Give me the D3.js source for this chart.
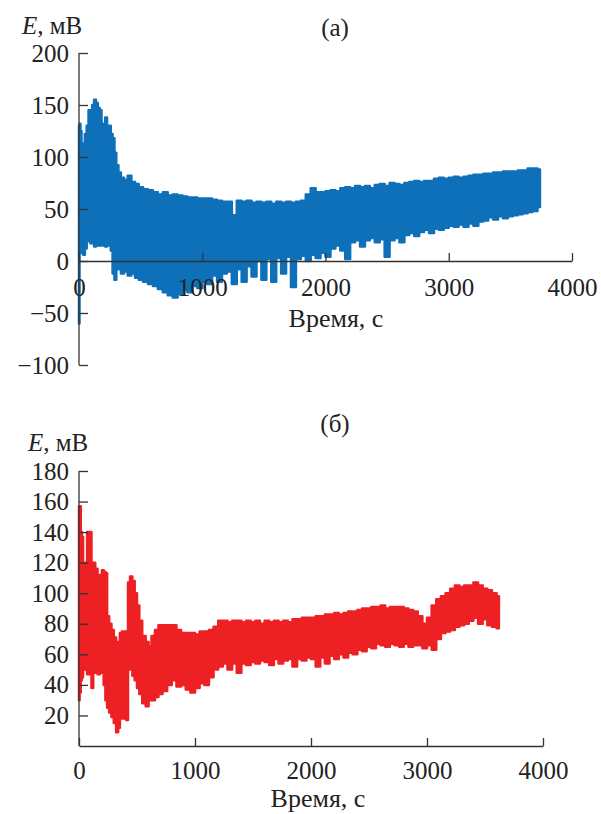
<!DOCTYPE html>
<html>
<head>
<meta charset="utf-8">
<script src="https://cdn.jsdelivr.net/npm/d3@7"></script>
<style>
  body { margin: 0; background: #fff; }
</style>
</head>
<body>
<script>
// panel (a): envelope of the signal, time in s, E in mV
var timeA = [0,8,15,25,40,55,70,85,100,115,130,145,160,175,190,205,220,235,250,265,280,295,310,330,350,380,410,440,470,500,540,580,620,660,700,740,780,820,860,900,940,980,1020,1060,1100,1140,1180,1220,1260,1300,1340,1380,1420,1460,1500,1540,1580,1620,1660,1700,1740,1780,1820,1860,1900,1940,1980,2020,2060,2100,2140,2180,2220,2260,2300,2340,2380,2420,2460,2500,2540,2580,2620,2660,2700,2740,2780,2820,2860,2900,2940,2980,3020,3060,3100,3140,3180,3220,3260,3300,3340,3380,3420,3460,3500,3540,3580,3620,3660,3700,3740];
var highA = [130,132,125,112,113,122,130,145,142,150,155,152,147,145,132,130,138,128,130,122,118,104,92,85,80,78,82,76,74,71,69,68,66,64,66,63,64,63,62,61,61,60,60,60,59,58,57,57,44,58,57,58,56,57,56,57,55,57,56,57,56,57,58,64,70,66,66,67,68,67,70,71,70,72,71,72,70,73,74,72,75,74,73,75,76,77,76,77,77,79,80,79,80,81,80,81,82,83,83,84,84,85,85,86,86,86,87,87,89,89,88];
var lowA = [-60,50,20,8,6,12,20,19,17,18,14,16,15,17,15,16,14,16,15,10,-12,-18,-5,-8,-12,-10,-14,-12,-16,-18,-20,-22,-24,-27,-30,-33,-35,-32,-28,-30,-24,-26,-20,-22,-14,-20,-12,-10,-22,-8,-20,-5,-15,0,-18,2,-20,3,-12,4,-25,2,5,0,6,3,8,4,12,15,10,2,18,20,14,20,22,18,21,4,20,22,18,25,27,24,28,30,27,31,30,32,34,33,35,33,36,34,38,39,42,40,43,41,43,44,45,46,47,48,52];

// panel (б)
var timeB = [0,10,20,30,40,60,80,100,115,130,150,170,190,205,220,235,250,270,290,310,330,345,360,380,400,415,430,450,470,490,510,530,560,590,610,640,670,700,740,780,820,860,900,940,980,1020,1060,1100,1140,1180,1220,1260,1300,1340,1380,1420,1460,1500,1540,1580,1620,1660,1700,1740,1780,1820,1860,1900,1940,1980,2020,2060,2100,2140,2180,2220,2260,2300,2340,2380,2420,2460,2500,2540,2580,2620,2660,2700,2740,2780,2820,2860,2900,2940,2980,3020,3060,3100,3140,3180,3220,3260,3300,3340,3380,3420,3460,3500,3540,3580,3620];
var highB = [157,157,140,137,120,120,140,140,120,120,116,108,112,115,114,113,85,80,76,71,63,68,74,75,75,70,107,111,108,100,92,82,72,68,65,72,76,79,79,79,79,76,74,74,74,73,75,75,76,78,82,82,81,82,82,81,82,81,82,80,82,81,82,81,82,81,83,83,84,84,84,85,85,86,86,87,86,87,88,88,89,90,90,91,91,92,90,91,91,91,90,89,88,85,80,84,92,96,98,100,103,105,104,105,105,107,105,103,102,100,98];
var lowB = [30,35,43,45,52,50,47,52,38,50,48,47,50,48,40,30,25,22,19,15,9,12,21,18,18,17,52,50,46,43,38,34,28,26,30,30,32,34,36,40,43,39,40,37,35,38,41,40,45,50,52,54,50,54,48,54,53,55,54,56,55,53,57,54,56,57,52,57,56,58,57,52,58,54,59,57,60,58,61,60,63,62,65,64,67,66,65,67,66,65,67,65,66,66,64,66,63,70,74,75,76,78,79,80,82,84,80,83,79,78,77];

var xTicks = [0, 1000, 2000, 3000, 4000];
var yTicksA = [-100, -50, 0, 50, 100, 150, 200];
var yTicksB = [20, 40, 60, 80, 100, 120, 140, 160, 180];

var FONT = "'Liberation Serif'";
var W = 601, H = 814;
var svg = d3.select("body").append("svg")
  .attr("width", W).attr("height", H);
svg.append("rect").attr("width", W).attr("height", H).attr("fill", "#fff");

function panel(opt) {
  var x = d3.scaleLinear().domain([0, 4000]).range([opt.left, opt.right]);
  var y = d3.scaleLinear().domain(opt.ydom).range([opt.bottom, opt.top]);
  var rows = opt.t.map(function(t, i) { return {t: t, hi: opt.hi[i], lo: opt.lo[i]}; });

  var area = d3.area()
    .curve(d3.curveStep)
    .x(function(d) { return x(d.t); })
    .y0(function(d) { return y(d.lo); })
    .y1(function(d) { return y(d.hi); });

  svg.append("path").datum(rows)
    .attr("d", area)
    .attr("fill", opt.color)
    .attr("stroke", opt.color)
    .attr("stroke-width", 2.5)
    .attr("stroke-linejoin", "round");

  var xa = svg.append("g")
    .attr("transform", "translate(0," + y(opt.xAt) + ")")
    .call(d3.axisBottom(x).tickValues(xTicks).tickSizeInner(-8).tickSizeOuter(0)
      .tickPadding(opt.xPad).tickFormat(d3.format("d")));

  var ya = svg.append("g")
    .attr("transform", "translate(" + opt.left + ",0)")
    .call(d3.axisLeft(y).tickValues(opt.yTicks).tickSizeInner(-9).tickSizeOuter(0)
      .tickPadding(10).tickFormat(function(d) { return d < 0 ? "\u2212" + (-d) : d; }));
  ya.select(".domain").attr("d", "M0," + opt.bottom + "V" + opt.top);

  [xa, ya].forEach(function(g) {
    g.attr("font-family", null);
    g.selectAll("path, line").attr("stroke", "#333").attr("stroke-width", 1.3);
    g.selectAll("text").style("font-family", FONT).style("font-size", "25px").attr("fill", "#222");
  });

  var lab = svg.append("text").attr("x", opt.ylabX).attr("y", opt.ylabY)
    .style("font-family", FONT).style("font-size", "25px").attr("fill", "#222");
  lab.append("tspan").style("font-style", "italic").text("E");
  lab.append("tspan").text(", мВ");

  svg.append("text").attr("x", 335).attr("y", opt.titleY)
    .attr("text-anchor", "middle").style("font-family", FONT).style("font-size", "25px")
    .attr("fill", "#222").text(opt.title);

  svg.append("text").attr("x", opt.xlabX).attr("y", opt.xlabY)
    .attr("text-anchor", "middle").style("font-family", FONT).style("font-size", "26px")
    .attr("fill", "#222").text("Время, с");
}

panel({
  t: timeA, hi: highA, lo: lowA, color: "#0e70b9",
  left: 79, right: 572, top: 53, bottom: 365, ydom: [-100, 200], xAt: 0,
  yTicks: yTicksA, xPad: 17, ylabX: 22, ylabY: 34, title: "(а)", titleY: 36,
  xlabX: 336, xlabY: 327
});

panel({
  t: timeB, hi: highB, lo: lowB, color: "#ed2024",
  left: 79, right: 543, top: 471, bottom: 746, ydom: [0, 180], xAt: 0,
  yTicks: yTicksB, xPad: 15, ylabX: 28, ylabY: 451, title: "(б)", titleY: 432,
  xlabX: 318, xlabY: 807
});
</script>
</body>
</html>
